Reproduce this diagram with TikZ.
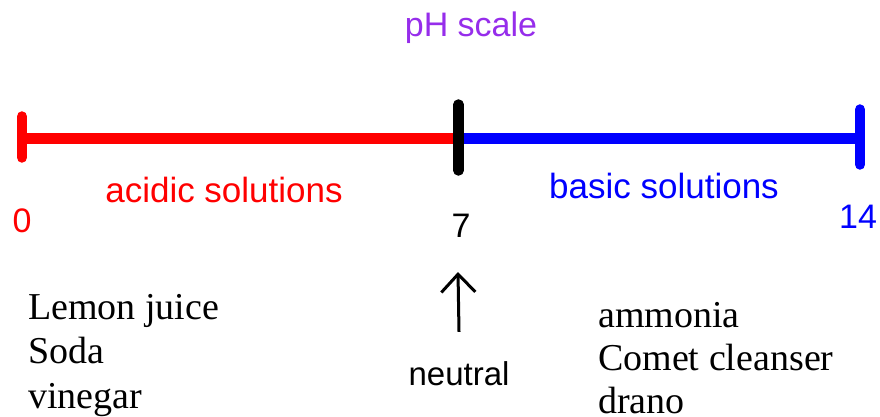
\documentclass[tikz,border=0pt]{standalone}
\usepackage{fontspec}
\setmainfont{Liberation Serif}
\setsansfont{Liberation Sans}
\usepackage{xcolor}
\usetikzlibrary{arrows.meta, positioning}

\definecolor{phpurple}{RGB}{150,45,235}
\definecolor{acidred}{RGB}{255,0,0}
\definecolor{baseblue}{RGB}{0,0,255}

\begin{document}
\begin{tikzpicture}[
    x=1pt, y=-1pt,
    scale line/.style={line width=11pt},
    scale tick/.style={line width=10.5pt, line cap=round},
    sans label/.style={font=\sffamily\fontsize{34}{34}\selectfont, inner sep=0pt, anchor=base},
    item/.style={font=\rmfamily\fontsize{38}{38}\selectfont, inner sep=0pt, anchor=base west}
]
    \useasboundingbox (0,0) rectangle (880,417);

    % Titel
    \node[sans label, phpurple] (title) at (471,37) {pH scale};

    % Skala
    \coordinate (p0)  at (22,138.5);
    \coordinate (p7)  at (458.5,138.5);
    \coordinate (p14) at (860,138.5);
    \draw[scale line, acidred]  (p0) -- (p7);
    \draw[scale line, baseblue] (p7) -- (p14);
    \draw[scale tick, acidred]  ([yshift=22pt]p0)  -- ([yshift=-19pt]p0);
    \draw[scale tick, baseblue] ([yshift=29pt]p14) -- ([yshift=-26pt]p14);
    \draw[scale tick, black]    ([yshift=34pt]p7)  -- ([yshift=-32pt]p7);

    % Beschriftung
    \node[sans label, acidred, font=\sffamily\fontsize{35}{35}\selectfont]  (acid)  at (224,202) {acidic solutions};
    \node[sans label, baseblue, font=\sffamily\fontsize{35}{35}\selectfont] (basic) at (664,198) {basic solutions};
    \node[sans label, acidred]  (n0)    at (22,232)  {0};
    \node[sans label, black]    (n7)    at (461,237) {7};
    \node[sans label, baseblue] (n14)   at (858,228) {14};

    % Neutralpunkt
    \node[sans label, font=\sffamily\fontsize{33}{33}\selectfont] (neutral) at (459,385) {neutral};
    \coordinate (tip) at (458,272);
    \draw[line width=3pt, -{Straight Barb[length=18pt, width=34pt]}]
        ([yshift=29pt]neutral.north) -- (tip);

    % Beispiele sauer
    \node[item] (lemon)   at (28,319) {Lemon juice};
    \node[item] (soda)    at (28,363) {Soda};
    \node[item] (vinegar) at (28,408) {vinegar};

    % Beispiele basisch
    \node[item] (ammonia) at (598,327) {ammonia};
    \node[item] (comet)   at (598,370) {Comet cleanser};
    \node[item] (drano)   at (598,413) {drano};
\end{tikzpicture}
\end{document}
